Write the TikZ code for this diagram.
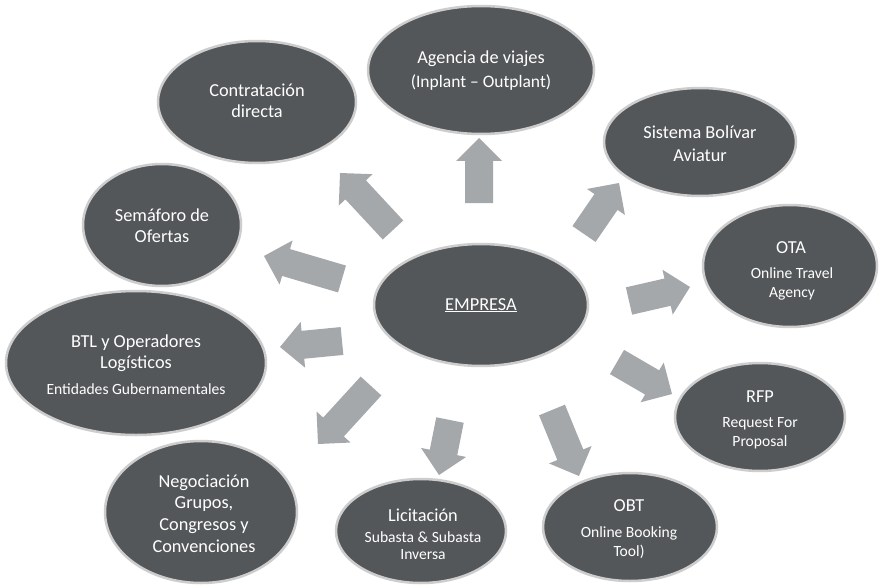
\documentclass[tikz,border=0pt]{standalone}
\usepackage{fontspec}
\setmainfont{Carlito}
\usetikzlibrary{shapes.geometric,calc}

\definecolor{ovalfill}{HTML}{545759}
\definecolor{ovalrim}{HTML}{CDCDCD}
\definecolor{arrowfill}{HTML}{A5A8AB}

\tikzset{
  oval/.style={ellipse, fill=ovalfill, draw=ovalrim, line width=2.5pt, inner sep=0pt},
  big/.style={text=white, font=\fontsize{18.3}{21}\selectfont, anchor=base, inner sep=0pt},
  small/.style={text=white, font=\fontsize{15.6}{18}\selectfont, anchor=base, inner sep=0pt},
  mid/.style={text=white, font=\fontsize{17.5}{19}\selectfont, anchor=base, inner sep=0pt},
}

% Block arrow from a tail coordinate to a tip coordinate
% (shaft 28pt wide, head 46pt wide and 23pt long)
\newcommand{\blockarrow}[2]{%
  \path ($(#2)!23pt!(#1)$) coordinate (#2-base);
  \fill[arrowfill]
    ($(#1)!14pt!90:(#2)$) -- ($(#2-base)!14pt!90:(#2)$) --
    ($(#2-base)!23pt!90:(#2)$) -- (#2) --
    ($(#2-base)!23pt!-90:(#2)$) -- ($(#2-base)!14pt!-90:(#2)$) --
    ($(#1)!14pt!-90:(#2)$) -- cycle;
}

\begin{document}
\begin{tikzpicture}[x=1pt, y=-1pt]
  \useasboundingbox[fill=white] (0,0) rectangle (885,588);

  % ovals
  \node[oval, minimum width=226, minimum height=128] (agencia)      at (481,70)  {};
  \node[oval, minimum width=198, minimum height=122] (contratacion) at (257,102) {};
  \node[oval, minimum width=192, minimum height=108] (sistema)      at (700,142) {};
  \node[oval, minimum width=158, minimum height=122] (semaforo)     at (162,225) {};
  \node[oval, minimum width=174, minimum height=122] (ota)          at (790,266) {};
  \node[oval, minimum width=214, minimum height=122] (empresa)      at (481,305) {};
  \node[oval, minimum width=260, minimum height=144] (btl)          at (136,363) {};
  \node[oval, minimum width=170, minimum height=108] (rfp)          at (760,417) {};
  \node[oval, minimum width=192, minimum height=142] (negociacion)  at (201,512) {};
  \node[oval, minimum width=170, minimum height=104] (licitacion)   at (421,531) {};
  \node[oval, minimum width=174, minimum height=108] (obt)          at (630,527) {};

  % labels
  \node[big]   (agencia-l1) at (481,64)  {Agencia de viajes};
  \node[mid]   (agencia-l2) at (481,88)  {(Inplant – Outplant)};
  \node[big]   (contratacion-l1) at (257,97)  {Contratación};
  \node[big]   (contratacion-l2) at (257,118) {directa};
  \node[big]   (sistema-l1) at (700,139) {Sistema Bolívar};
  \node[big]   (sistema-l2) at (700,161) {Aviatur};
  \node[big]   (semaforo-l1) at (162,221) {Semáforo de};
  \node[big]   (semaforo-l2) at (162,242) {Ofertas};
  \node[big]   (ota-l1) at (791,253) {OTA};
  \node[small] (ota-l2) at (792,278) {Online Travel};
  \node[small] (ota-l3) at (792,297) {Agency};
  \node[big]   (empresa-l1) at (481,310) {\underline{EMPRESA}};
  \node[big]   (btl-l1) at (136,347) {BTL y Operadores};
  \node[big]   (btl-l2) at (136,368) {Logísticos};
  \node[small] (btl-l3) at (136,394) {Entidades Gubernamentales};
  \node[big]   (rfp-l1) at (760,402) {RFP};
  \node[small] (rfp-l2) at (760,427) {Request For};
  \node[small] (rfp-l3) at (760,446) {Proposal};
  \node[big]   (negociacion-l1) at (204,487) {Negociación};
  \node[big]   (negociacion-l2) at (204,508) {Grupos,};
  \node[big]   (negociacion-l3) at (204,530) {Congresos y};
  \node[big]   (negociacion-l4) at (204,552) {Convenciones};
  \node[big]   (licitacion-l1) at (423,521) {Licitación};
  \node[small] (licitacion-l2) at (423,542) {Subasta \& Subasta};
  \node[small] (licitacion-l3) at (423,559) {Inversa};
  \node[big]   (obt-l1) at (629,511) {OBT};
  \node[small] (obt-l2) at (629,537) {Online Booking};
  \node[small] (obt-l3) at (629,556) {Tool)};

  % arrow end points
  \coordinate (to-agencia)      at (479,138);  \coordinate (from-agencia)      at (479,203);
  \coordinate (to-contratacion) at (340,173);  \coordinate (from-contratacion) at (393,230);
  \coordinate (to-semaforo)     at (264,256);  \coordinate (from-semaforo)     at (342,279);
  \coordinate (to-btl)          at (280,347);  \coordinate (from-btl)          at (342,341);
  \coordinate (to-negociacion)  at (318,444);  \coordinate (from-negociacion)  at (371,386);
  \coordinate (to-licitacion)   at (439,475);  \coordinate (from-licitacion)   at (450,420);
  \coordinate (to-obt)          at (579,476);  \coordinate (from-obt)          at (552,410);
  \coordinate (to-rfp)          at (672,394);  \coordinate (from-rfp)          at (617,362);
  \coordinate (to-ota)          at (690,287);  \coordinate (from-ota)          at (629,301);
  \coordinate (to-sistema)      at (619,183);  \coordinate (from-sistema)      at (584,234);

  % block arrows
  \blockarrow{from-agencia}{to-agencia}
  \blockarrow{from-contratacion}{to-contratacion}
  \blockarrow{from-semaforo}{to-semaforo}
  \blockarrow{from-btl}{to-btl}
  \blockarrow{from-negociacion}{to-negociacion}
  \blockarrow{from-licitacion}{to-licitacion}
  \blockarrow{from-obt}{to-obt}
  \blockarrow{from-rfp}{to-rfp}
  \blockarrow{from-ota}{to-ota}
  \blockarrow{from-sistema}{to-sistema}
\end{tikzpicture}
\end{document}
